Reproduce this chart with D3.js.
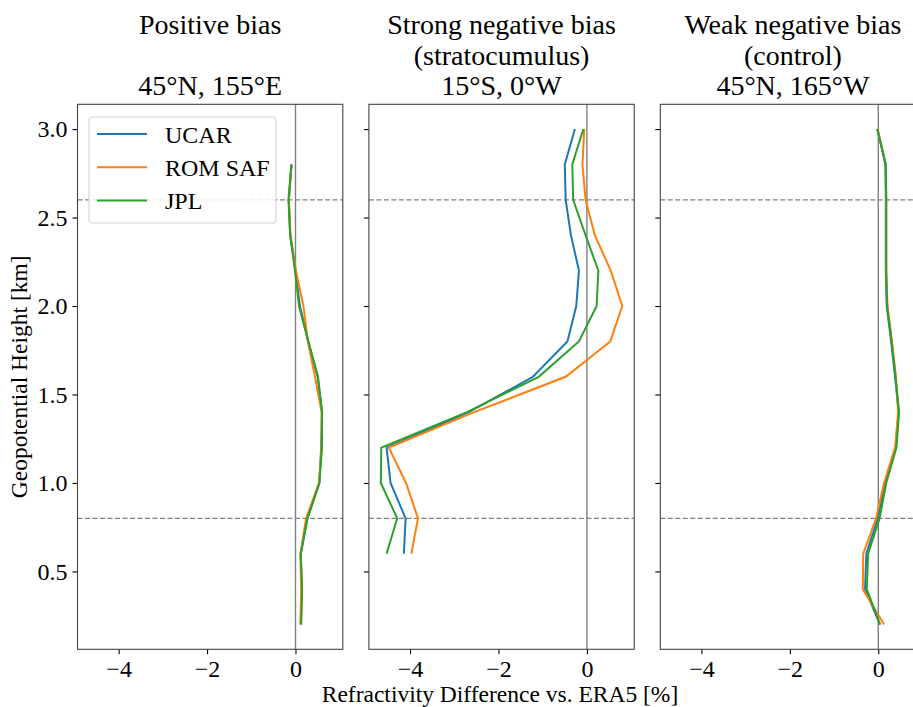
<!DOCTYPE html>
<html lang="en">
<head>
<meta charset="UTF-8">
<title>Refractivity profiles</title>
<style>
  body { margin: 0; background: #fff; }
  svg { font-family: "Liberation Serif", "DejaVu Serif", serif; }
  .line { fill: none; stroke-width: 2px; }
  .tick text { font-family: "Liberation Serif", "DejaVu Serif", serif; font-size: 24px; fill: #000; }
</style>
</head>
<body>
<script src="https://d3js.org/d3.v7.min.js"></script>
<script>
// ---- data ----
const seriesNames = ['UCAR', 'ROM SAF', 'JPL'];
const seriesColors = ['#1f77b4', '#ff7f0e', '#2ca02c'];

const titles = [
  ['Positive bias', '', '45\u00b0N, 155\u00b0E'],
  ['Strong negative bias', '(stratocumulus)', '15\u00b0S, 0\u00b0W'],
  ['Weak negative bias', '(control)', '45\u00b0N, 165\u00b0W']
];

// panel 1: 45N 155E
const heights1 = [2.8, 2.6, 2.4, 2.2, 2.0, 1.8, 1.6, 1.4, 1.2, 1.0, 0.8, 0.6, 0.4, 0.2];
const ucar1   = [-0.09, -0.15, -0.12, 0.00, 0.10, 0.29, 0.50, 0.60, 0.58, 0.54, 0.27, 0.12, 0.14, 0.12];
const romsaf1 = [-0.09, -0.15, -0.11, 0.01, 0.18, 0.28, 0.44, 0.59, 0.59, 0.53, 0.24, 0.11, 0.13, 0.11];
const jpl1    = [-0.09, -0.16, -0.12, -0.01, 0.08, 0.29, 0.51, 0.60, 0.60, 0.54, 0.27, 0.12, 0.15, 0.13];

// panel 2: 15S 0W
const heights2 = [3.0, 2.8, 2.6, 2.4, 2.2, 2.0, 1.8, 1.6, 1.4, 1.2, 1.0, 0.8, 0.6];
const ucar2   = [-0.27, -0.50, -0.48, -0.36, -0.18, -0.24, -0.44, -1.22, -2.67, -4.53, -4.44, -4.10, -4.14];
const romsaf2 = [-0.06, -0.10, -0.03, 0.18, 0.54, 0.80, 0.53, -0.48, -2.55, -4.48, -4.09, -3.82, -3.97];
const jpl2    = [-0.08, -0.33, -0.31, -0.03, 0.26, 0.22, -0.18, -1.09, -2.71, -4.65, -4.66, -4.29, -4.53];

// panel 3: 45N 165W
const heights3 = [3.0, 2.8, 2.6, 2.4, 2.2, 2.0, 1.8, 1.6, 1.4, 1.2, 1.0, 0.8, 0.6, 0.4, 0.2];
const ucar3   = [-0.02, 0.16, 0.17, 0.17, 0.17, 0.19, 0.29, 0.38, 0.46, 0.39, 0.15, -0.01, -0.27, -0.30, 0.04];
const romsaf3 = [-0.02, 0.17, 0.18, 0.18, 0.18, 0.21, 0.31, 0.40, 0.45, 0.38, 0.13, -0.05, -0.34, -0.35, 0.13];
const jpl3    = [-0.02, 0.17, 0.18, 0.18, 0.18, 0.20, 0.30, 0.39, 0.47, 0.41, 0.18, 0.03, -0.23, -0.26, 0.04];

const xTicks = [-4, -2, 0];
const yTicks = [0.5, 1.0, 1.5, 2.0, 2.5, 3.0];
const dashedHeights = [2.6, 0.8];

const panels = [
  { h: heights1, s: [ucar1, romsaf1, jpl1] },
  { h: heights2, s: [ucar2, romsaf2, jpl2] },
  { h: heights3, s: [ucar3, romsaf3, jpl3] }
];

// ---- layout ----
const W = 913, H = 707;
const left0 = 77.5, panelW = 265.3, gap = 26.1;
const plotTop = 104.3, plotBottom = 649.3;
const plotH = plotBottom - plotTop;

const svg = d3.select('body').append('svg')
  .attr('width', W)
  .attr('height', H);

const x = d3.scaleLinear().domain([-4.93, 1.07]).range([0, panelW]);
const y = d3.scaleLinear().domain([0.06, 3.14]).range([plotH, 0]);

panels.forEach((p, i) => {
  const g = svg.append('g')
    .attr('transform', `translate(${left0 + i * (panelW + gap)},${plotTop})`);

  // zero line
  g.append('line')
    .attr('x1', x(0)).attr('x2', x(0))
    .attr('y1', 0).attr('y2', plotH)
    .attr('stroke', '#808080').attr('stroke-width', 1.4);

  // dashed reference heights
  dashedHeights.forEach(d => {
    g.append('line')
      .attr('x1', 0).attr('x2', panelW)
      .attr('y1', y(d)).attr('y2', y(d))
      .attr('stroke', '#808080').attr('stroke-width', 1.4)
      .attr('stroke-dasharray', '5,2.5');
  });

  // series
  p.s.forEach((vals, k) => {
    const line = d3.line()
      .x(d => x(d))
      .y((d, j) => y(p.h[j]));
    g.append('path')
      .datum(vals)
      .attr('class', 'line')
      .attr('stroke', seriesColors[k])
      .attr('d', line);
  });

  // axes
  const xa = g.append('g')
    .attr('transform', `translate(0,${plotH})`)
    .call(d3.axisBottom(x).tickValues(xTicks).tickSize(5).tickPadding(6)
      .tickFormat(d => d < 0 ? '\u2212' + Math.abs(d) : d));
  const ya = g.append('g')
    .call(d3.axisLeft(y).tickValues(yTicks).tickSize(5).tickPadding(5)
      .tickFormat(i === 0 ? d3.format('.1f') : () => ''));
  [xa, ya].forEach(a => {
    a.select('.domain').remove();
    a.selectAll('.tick line').attr('stroke', '#000').attr('stroke-width', 1.1);
  });

  // frame
  g.append('rect')
    .attr('width', panelW).attr('height', plotH)
    .attr('fill', 'none').attr('stroke', '#444').attr('stroke-width', 1.1);

  // title
  const cx = panelW / 2;
  titles[i].forEach((t, li) => {
    svg.append('text')
      .attr('x', left0 + i * (panelW + gap) + cx)
      .attr('y', 34.3 + li * 30.4)
      .attr('text-anchor', 'middle')
      .attr('font-size', 28)
      .text(t);
  });
});

// legend in first panel
const lg = svg.append('g').attr('transform', 'translate(89,117)');
lg.append('rect')
  .attr('width', 187).attr('height', 106).attr('rx', 3)
  .attr('fill', '#fff').attr('fill-opacity', 0.85)
  .attr('stroke', '#d0d0d0').attr('stroke-width', 1);
seriesNames.forEach((n, k) => {
  const yy = 17 + k * 33.3;
  lg.append('line')
    .attr('x1', 8).attr('x2', 58).attr('y1', yy).attr('y2', yy)
    .attr('stroke', seriesColors[k]).attr('stroke-width', 2);
  lg.append('text')
    .attr('x', 76).attr('y', yy + 8.5)
    .attr('font-size', 24)
    .text(n);
});

// axis labels
svg.append('text')
  .attr('x', 500).attr('y', 702)
  .attr('text-anchor', 'middle')
  .attr('font-size', 23.5)
  .text('Refractivity Difference vs. ERA5 [%]');

svg.append('text')
  .attr('transform', `translate(27,${(plotTop + plotBottom) / 2}) rotate(-90)`)
  .attr('text-anchor', 'middle')
  .attr('font-size', 23.5)
  .text('Geopotential Height [km]');
</script>
</body>
</html>
